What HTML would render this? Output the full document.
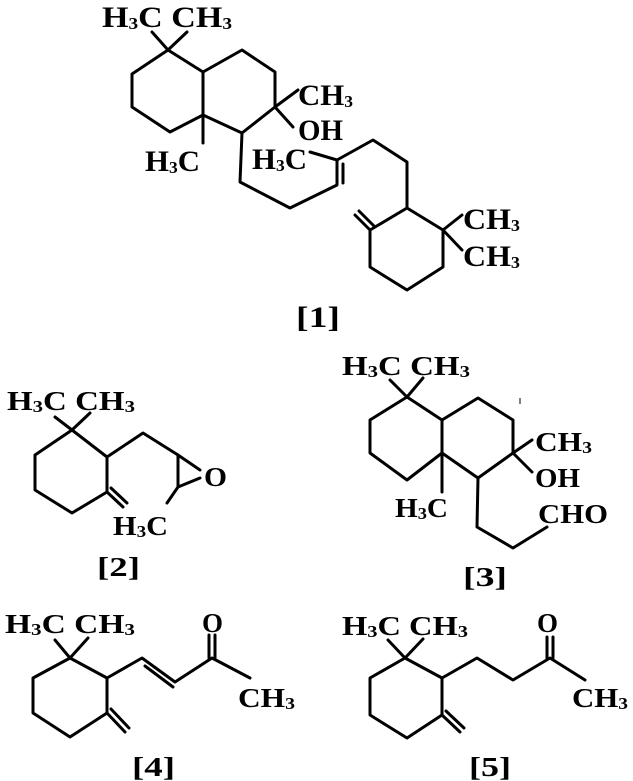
<!DOCTYPE html>
<html><head><meta charset="utf-8"><style>
html,body{margin:0;padding:0;background:#fff;}
svg{display:block;}
text{font-family:"Liberation Serif",serif;font-weight:bold;fill:#000;}
.s{font-size:17px;}
</style></head><body>
<svg width="633" height="781" viewBox="0 0 633 781" xmlns="http://www.w3.org/2000/svg">
<g stroke="#000" stroke-width="3" fill="none" stroke-linecap="round" stroke-linejoin="round">
<!-- Structure 1 -->
<polyline points="152,32 168,50 187,32"/>
<polygon points="168,50 132,74 132,107 170,132 203,115 203,72"/>
<polyline points="203,72 242,50 275,72 275,107 242,133 203,115"/>
<line x1="203" y1="115" x2="203" y2="143"/>
<line x1="275" y1="107" x2="298" y2="90"/>
<line x1="275" y1="107" x2="293" y2="127"/>
<polyline points="242,133 240,182 290,208 337,185 337,160 373,140 407,162 407,208"/>
<line x1="343" y1="164" x2="343" y2="183"/>
<line x1="337" y1="160" x2="310" y2="152"/>
<polygon points="407,208 443,230 443,267 407,290 370,267 370,230"/>
<line x1="370" y1="230" x2="355" y2="215"/>
<line x1="374" y1="226" x2="359" y2="211"/>
<line x1="443" y1="230" x2="462" y2="215"/>
<line x1="443" y1="230" x2="462" y2="250"/>
<!-- Structure 2 -->
<polyline points="55,417 72,430 90,413"/>
<polygon points="72,430 35,455 35,490 72,513 107,492 107,457"/>
<line x1="107" y1="492" x2="123" y2="507"/>
<line x1="111" y1="488" x2="127" y2="503"/>
<polyline points="107,457 143,433 178,455 178,487 167,503"/>
<line x1="178" y1="455" x2="200" y2="470"/>
<line x1="178" y1="487" x2="200" y2="478"/>
<!-- Structure 3 -->
<polyline points="390,380 407,397 423,378"/>
<polygon points="407,397 370,420 370,453 407,480 442,453 442,420"/>
<polyline points="442,420 478,398 513,420 513,453 478,478 442,453"/>
<line x1="442" y1="453" x2="442" y2="492"/>
<line x1="513" y1="453" x2="532" y2="440"/>
<line x1="513" y1="453" x2="532" y2="472"/>
<polyline points="478,478 477,527 513,548 547,527"/>
<!-- Structure 4 -->
<polyline points="55,640 70,658 88,638"/>
<polygon points="70,658 33,678 33,713 70,737 107,713 107,678"/>
<line x1="107" y1="713" x2="125" y2="732"/>
<line x1="111" y1="709" x2="129" y2="728"/>
<polyline points="107,678 142,658 175,682 212,658 250,678"/>
<line x1="145" y1="666" x2="173" y2="687"/>
<line x1="209" y1="658" x2="209" y2="635"/>
<line x1="215" y1="658" x2="215" y2="635"/>
<!-- Structure 5 -->
<polyline points="388,640 405,658 423,639"/>
<polygon points="405,658 370,678 370,715 407,738 442,715 442,678"/>
<line x1="442" y1="715" x2="460" y2="732"/>
<line x1="446" y1="711" x2="464" y2="728"/>
<polyline points="442,678 477,658 513,680 550,658 585,680"/>
<line x1="547" y1="658" x2="547" y2="637"/>
<line x1="553" y1="658" x2="553" y2="637"/>
</g>
<line x1="520" y1="398" x2="520" y2="404" stroke="#000" stroke-width="1"/>
<g font-size="30">
<text x="102" y="27" textLength="130" lengthAdjust="spacingAndGlyphs">H<tspan class="s" dy="2">3</tspan><tspan dy="-2">C CH</tspan><tspan class="s" dy="2">3</tspan></text>
<text x="298" y="105" textLength="55" lengthAdjust="spacingAndGlyphs">CH<tspan class="s" dy="2">3</tspan></text>
<text x="298" y="140" textLength="45" lengthAdjust="spacingAndGlyphs">OH</text>
<text x="145" y="171" textLength="55" lengthAdjust="spacingAndGlyphs">H<tspan class="s" dy="2">3</tspan><tspan dy="-2">C</tspan></text>
<text x="252" y="169" textLength="55" lengthAdjust="spacingAndGlyphs">H<tspan class="s" dy="2">3</tspan><tspan dy="-2">C</tspan></text>
<text x="463" y="229" textLength="57" lengthAdjust="spacingAndGlyphs">CH<tspan class="s" dy="2">3</tspan></text>
<text x="463" y="266" textLength="57" lengthAdjust="spacingAndGlyphs">CH<tspan class="s" dy="2">3</tspan></text>
<text x="296" y="327" textLength="44" lengthAdjust="spacingAndGlyphs" font-weight="normal">[1]</text>
</g>
<g font-size="27">
<text x="7" y="410" textLength="128" lengthAdjust="spacingAndGlyphs">H<tspan class="s" dy="2">3</tspan><tspan dy="-2">C CH</tspan><tspan class="s" dy="2">3</tspan></text>
<text x="204" y="486" textLength="23" lengthAdjust="spacingAndGlyphs">O</text>
<text x="113" y="535" textLength="55" lengthAdjust="spacingAndGlyphs">H<tspan class="s" dy="2">3</tspan><tspan dy="-2">C</tspan></text>
<text x="97" y="576" textLength="43" lengthAdjust="spacingAndGlyphs" font-weight="normal">[2]</text>
<text x="342" y="375" textLength="128" lengthAdjust="spacingAndGlyphs">H<tspan class="s" dy="2">3</tspan><tspan dy="-2">C CH</tspan><tspan class="s" dy="2">3</tspan></text>
<text x="535" y="451" textLength="57" lengthAdjust="spacingAndGlyphs">CH<tspan class="s" dy="2">3</tspan></text>
<text x="535" y="487" textLength="45" lengthAdjust="spacingAndGlyphs">OH</text>
<text x="395" y="517" textLength="53" lengthAdjust="spacingAndGlyphs">H<tspan class="s" dy="2">3</tspan><tspan dy="-2">C</tspan></text>
<text x="538" y="523" textLength="70" lengthAdjust="spacingAndGlyphs">CHO</text>
<text x="463" y="586" textLength="44" lengthAdjust="spacingAndGlyphs" font-weight="normal">[3]</text>
<text x="5" y="633" textLength="130" lengthAdjust="spacingAndGlyphs">H<tspan class="s" dy="2">3</tspan><tspan dy="-2">C CH</tspan><tspan class="s" dy="2">3</tspan></text>
<text x="202" y="632" textLength="21" lengthAdjust="spacingAndGlyphs">O</text>
<text x="238" y="707" textLength="57" lengthAdjust="spacingAndGlyphs">CH<tspan class="s" dy="2">3</tspan></text>
<text x="132" y="776" textLength="43" lengthAdjust="spacingAndGlyphs" font-weight="normal">[4]</text>
<text x="342" y="635" textLength="126" lengthAdjust="spacingAndGlyphs">H<tspan class="s" dy="2">3</tspan><tspan dy="-2">C CH</tspan><tspan class="s" dy="2">3</tspan></text>
<text x="537" y="632" textLength="21" lengthAdjust="spacingAndGlyphs">O</text>
<text x="572" y="707" textLength="56" lengthAdjust="spacingAndGlyphs">CH<tspan class="s" dy="2">3</tspan></text>
<text x="469" y="776" textLength="42" lengthAdjust="spacingAndGlyphs" font-weight="normal">[5]</text>
</g>
</svg>
</body></html>
